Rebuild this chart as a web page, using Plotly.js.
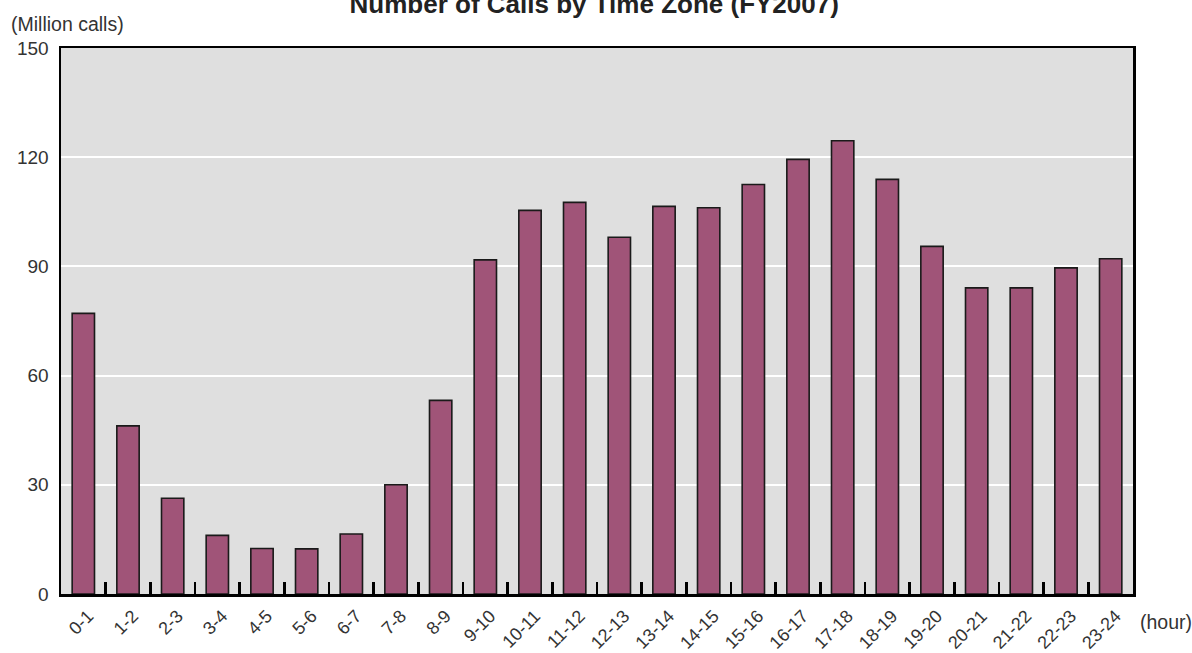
<!DOCTYPE html>
<html>
<head>
<meta charset="utf-8">
<script src="https://cdn.plot.ly/plotly-3.0.1.min.js"></script>
<style>html,body{margin:0;padding:0;background:#fff;}#chart{width:1192px;height:653px;}</style>
</head>
<body>
<div id="chart"></div>
<script>
const hours = ["0-1","1-2","2-3","3-4","4-5","5-6","6-7","7-8","8-9","9-10","10-11","11-12",
  "12-13","13-14","14-15","15-16","16-17","17-18","18-19","19-20","20-21","21-22","22-23","23-24"];
const calls = [77.1, 46.2, 26.3, 16.1, 12.5, 12.4, 16.5, 30.0, 53.2, 91.8, 105.4, 107.6,
  98.0, 106.5, 106.1, 112.5, 119.4, 124.5, 113.9, 95.5, 84.1, 84.1, 89.6, 92.1];
const yTicks = [0, 30, 60, 90, 120, 150];
const titleText = "Number of Calls by Time Zone (FY2007)";
const yUnit = "(Million calls)";
const xUnit = "(hour)";

const font = "Liberation Sans, Arial, sans-serif";
const trace = {
  type: "bar",
  x: hours,
  y: calls,
  marker: {color: "#A05478", line: {color: "#1a1a1a", width: 1.6}},
  hoverinfo: "x+y"
};
const layout = {
  width: 1192, height: 653,
  margin: {l: 61, r: 59, t: 48, b: 59},
  paper_bgcolor: "#ffffff",
  plot_bgcolor: "#dfdfdf",
  bargap: 0.5,
  showlegend: false,
  font: {family: font, color: "#333333", size: 18},
  title: {
    text: "<b>" + titleText + "</b>",
    font: {family: font, size: 26, color: "#222222"},
    x: 0.4985, xanchor: "center", xref: "container",
    y: 0.9936, yanchor: "middle", yref: "container"
  },
  xaxis: {
    type: "category",
    range: [-0.5, 23.5],
    tickangle: -45,
    ticks: "inside", tickson: "boundaries", ticklen: 12, tickwidth: 2.5, tickcolor: "#000",
    showline: true, linecolor: "#000", linewidth: 2.5, mirror: true,
    showgrid: false, zeroline: false,
    tickfont: {family: font, size: 18, color: "#333"},
    ticklabelshift: 5, ticklabelstandoff: 2,
    automargin: false, fixedrange: true
  },
  yaxis: {
    range: [0, 150],
    tickvals: yTicks,
    ticktext: yTicks.map(String),
    ticks: "", showline: true, linecolor: "#000", linewidth: 2.5, mirror: true,
    showgrid: true, gridcolor: "#ffffff", gridwidth: 2,
    zeroline: false,
    tickfont: {family: font, size: 19, color: "#333"},
    ticklabelstandoff: 6,
    automargin: false, fixedrange: true
  },
  annotations: [
    {text: yUnit, xref: "paper", yref: "paper", x: -0.0485, y: 1.044,
     xanchor: "left", yanchor: "middle", showarrow: false,
     font: {family: font, size: 19.5, color: "#333"}},
    {text: xUnit, xref: "paper", yref: "paper", x: 1.005, y: -0.0513,
     xanchor: "left", yanchor: "middle", showarrow: false,
     font: {family: font, size: 19.5, color: "#333"}}
  ]
};
Plotly.newPlot("chart", [trace], layout, {displayModeBar: false, staticPlot: true});
</script>
</body>
</html>
